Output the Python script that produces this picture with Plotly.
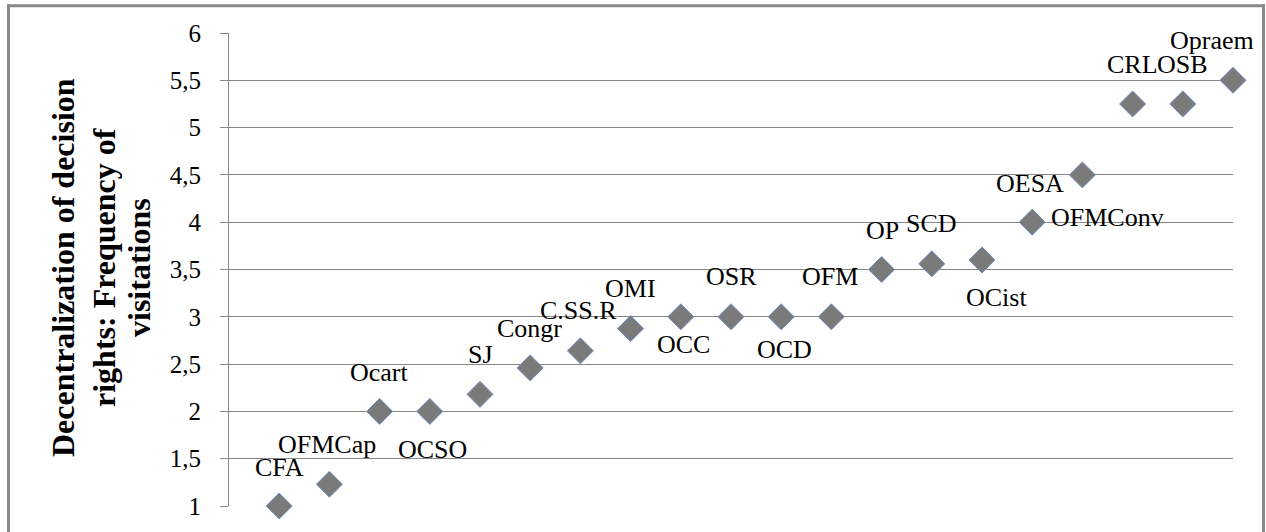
import plotly.graph_objects as go

# ---- data ----
orders = ["CFA", "OFMCap", "Ocart", "OCSO", "SJ", "Congr", "C.SS.R", "OMI", "OCC", "OSR",
          "OCD", "OFM", "OP", "SCD", "OCist", "OFMConv", "OESA", "CRL", "OSB", "Opraem"]
rank = list(range(1, 21))
decentralization = [1.0, 1.23, 2.0, 2.0, 2.18, 2.46, 2.64, 2.875, 3.0, 3.0,
                    3.0, 3.0, 3.5, 3.56, 3.6, 4.0, 4.5, 5.25, 5.25, 5.5]
y_ticks = [1, 1.5, 2, 2.5, 3, 3.5, 4, 4.5, 5, 5.5, 6]
y_title_lines = ["Decentralization of decision", "rights: Frequency of", "visitations"]

# label placement (pixel offsets from each point; style only)
label_dx = [0, -2, 0, 3, 0, -1, -2, 0, 3, 0, 3, -1, 1, 0, 14, 17, -16, 0, 0, -21]
label_dy = [39, 40, 39, -38, 40, 39, 40, 40, -28, 40, -33, 40, 39, 40, -37, 5, -9, 39, 39, 40]
label_anchor = ["center"] * 20
label_anchor[15] = "left"
label_anchor[16] = "right"

GRID = "#878787"
FONT = "Liberation Serif, Times New Roman, serif"

W, H = 1266, 532
L, R, T, B = 229, 33, 33, 22
PW, PH = W - L - R, H - T - B

def px_x(p):
    return (p - L) / PW

def px_y(p):
    return (H - B - p) / PH

fig = go.Figure()
fig.add_trace(go.Scatter(
    x=rank, y=decentralization, mode="markers",
    marker=dict(symbol="diamond", size=20, color="#7a7a7a",
                line=dict(color="#7391c6", width=1)),
    cliponaxis=False, hoverinfo="text", text=orders, showlegend=False,
))

annotations = []
for xi, yi, name, dx, dy, anc in zip(rank, decentralization, orders, label_dx, label_dy, label_anchor):
    annotations.append(dict(
        x=xi, y=yi, xref="x", yref="y", text=name, showarrow=False,
        xshift=dx, yshift=dy, xanchor=anc, yanchor="middle",
        font=dict(family=FONT, size=26, color="black"),
    ))

title_x = [63, 104, 139]
for line, tx in zip(y_title_lines, title_x):
    annotations.append(dict(
        x=px_x(tx), y=px_y(270), xref="paper", yref="paper", text=line,
        showarrow=False, textangle=-90, xanchor="center", yanchor="middle",
        font=dict(family=FONT, size=32, color="black", weight="bold"),
    ))

border = dict(color="#898989", width=3)
fig.update_layout(
    width=W, height=H,
    margin=dict(l=L, r=R, t=T, b=B, pad=0),
    paper_bgcolor="white", plot_bgcolor="white",
    separators=", ",
    annotations=annotations,
    shapes=[
        dict(type="line", xref="paper", yref="paper", x0=px_x(8.5), x1=px_x(8.5),
             y0=px_y(560), y1=px_y(4), line=border),
        dict(type="line", xref="paper", yref="paper", x0=px_x(7), x1=px_x(1265),
             y0=px_y(5.5), y1=px_y(5.5), line=border),
        dict(type="line", xref="paper", yref="paper", x0=px_x(1263.5), x1=px_x(1263.5),
             y0=px_y(560), y1=px_y(4), line=border),
    ],
    xaxis=dict(range=[0, 20], visible=False),
    yaxis=dict(range=[1, 6], tickvals=y_ticks, showgrid=True, gridcolor=GRID, gridwidth=1,
               showline=True, linecolor=GRID, linewidth=1, zeroline=False,
               ticks="outside", ticklen=8, tickcolor=GRID, ticklabelstandoff=14,
               tickfont=dict(family=FONT, size=25, color="black")),
)

fig.write_html(
    "out.html",
    config={"displayModeBar": False},
    post_script=("document.body.style.margin='0px';"
                 "document.body.style.overflow='hidden';"
                 "document.documentElement.style.overflow='hidden';"),
)
